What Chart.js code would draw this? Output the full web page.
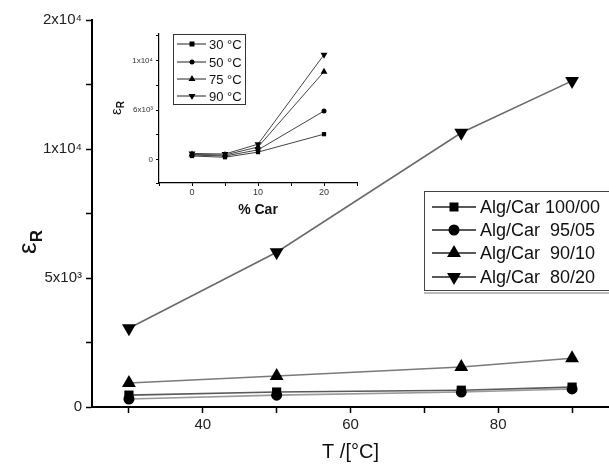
<!DOCTYPE html>
<html>
<head>
<meta charset="utf-8">
<script src="https://cdn.jsdelivr.net/npm/chart.js@4/dist/chart.umd.min.js"></script>
<style>
  html, body { margin: 0; padding: 0; background: #fff; }
  #wrap { position: relative; width: 609px; height: 471px; }
  #wrap canvas { position: absolute; left: 0; top: 0; }
</style>
</head>
<body>
<div id="wrap">
  <canvas id="mainChart" width="609" height="471"></canvas>
  <canvas id="insetChart" width="609" height="471"></canvas>
</div>
<script>
// main plot: eps_R vs temperature
const temps = [30, 50, 75, 90];
const seriesLabels = ['Alg/Car 100/00', 'Alg/Car  95/05', 'Alg/Car  90/10', 'Alg/Car  80/20'];
const alg100 = [460, 580, 650, 770];
const alg95 = [310, 460, 580, 700];
const alg90 = [930, 1200, 1550, 1890];
const alg80 = [3050, 6000, 10630, 12640];
const yTickValues = [0, 5000, 10000, 15000];
const yTickLabels = ['0', '5x10\u00B3', '1x10\u2074', '2x10\u2074'];
const xTickLabels = [40, 60, 80];

// inset: eps_R vs % Car
const carPct = [0, 5, 10, 20];
const insetLabels = ['30 \u00B0C', '50 \u00B0C', '75 \u00B0C', '90 \u00B0C'];
const t30 = [460, 310, 930, 3100];
const t50 = [580, 460, 1200, 5900];
const t75 = [650, 580, 1550, 10650];
const t90 = [770, 700, 1890, 12700];
const insetYTickValues = [0, 6000, 12000];
const insetYTickLabels = ['0', '6x10\u00B3', '1x10\u2074'];
const insetXTickLabels = [0, 10, 20];

const FONT = "'Liberation Sans', Arial, sans-serif";

function toPoints(xs, ys) {
    return xs.map((x, i) => ({ x: x, y: ys[i] }));
}

// small marker painter for the hand drawn legends
function drawMarker(ctx, style, x, y, r) {
    ctx.beginPath();
    if (style === 'rect') {
        ctx.rect(x - r, y - r, 2 * r, 2 * r);
    } else if (style === 'circle') {
        ctx.arc(x, y, r, 0, Math.PI * 2);
    } else if (style === 'up') {
        ctx.moveTo(x, y - r);
        ctx.lineTo(x + r * 0.87, y + r * 0.5);
        ctx.lineTo(x - r * 0.87, y + r * 0.5);
        ctx.closePath();
    } else {
        ctx.moveTo(x, y + r);
        ctx.lineTo(x + r * 0.87, y - r * 0.5);
        ctx.lineTo(x - r * 0.87, y - r * 0.5);
        ctx.closePath();
    }
    ctx.fillStyle = '#000';
    ctx.fill();
}

function drawSubLabel(ctx, x, y, big, small, sizeBig, sizeSmall) {
    // rotated eps with subscript R
    ctx.save();
    ctx.translate(x, y);
    ctx.rotate(-Math.PI / 2);
    ctx.fillStyle = '#111';
    ctx.textBaseline = 'alphabetic';
    ctx.font = sizeBig + 'px ' + FONT;
    const w1 = ctx.measureText(big).width;
    ctx.font = 'bold ' + sizeSmall + 'px ' + FONT;
    const w2 = ctx.measureText(small).width;
    const start = -(w1 + w2) / 2;
    ctx.font = sizeBig + 'px ' + FONT;
    ctx.fillText(big, start, sizeBig * 0.3);
    ctx.font = 'bold ' + sizeSmall + 'px ' + FONT;
    ctx.fillText(small, start + w1, sizeBig * 0.3 + sizeSmall * 0.35);
    ctx.restore();
}

const mainStyles = [
    { style: 'rect', radius: 6.5, rotation: 0, line: '#5a5a5a', legend: 'rect', lr: 4.5 },
    { style: 'circle', radius: 5.5, rotation: 0, line: '#9a9a9a', legend: 'circle', lr: 5.5 },
    { style: 'triangle', radius: 8, rotation: 0, line: '#7a7a7a', legend: 'up', lr: 8 },
    { style: 'triangle', radius: 8, rotation: 180, line: '#6a6a6a', legend: 'down', lr: 8 }
];
const mainSeries = [alg100, alg95, alg90, alg80];

const mainLegend = {
    id: 'mainLegend',
    afterDraw(chart) {
        const ctx = chart.ctx;
        ctx.save();
        // y title
        drawSubLabel(ctx, 28, 242, '\u03B5', 'R', 26, 17);
        // legend box
        ctx.fillStyle = '#bbb';
        ctx.fillRect(424, 292, 185, 2);
        ctx.fillStyle = '#fff';
        ctx.fillRect(426, 192, 183, 99);
        ctx.strokeStyle = '#444';
        ctx.lineWidth = 1;
        ctx.strokeRect(424.5, 191.5, 190, 99);
        const rows = [207, 230, 253, 277];
        seriesLabels.forEach((lab, i) => {
            const y = rows[i];
            ctx.strokeStyle = '#222';
            ctx.lineWidth = 1.5;
            ctx.beginPath();
            ctx.moveTo(432, y);
            ctx.lineTo(476, y);
            ctx.stroke();
            drawMarker(ctx, mainStyles[i].legend, 454, y, mainStyles[i].lr);
            ctx.fillStyle = '#111';
            ctx.font = '18px ' + FONT;
            ctx.textBaseline = 'middle';
            ctx.textAlign = 'left';
            ctx.fillText(lab, 480, y + 1);
        });
        ctx.restore();
    }
};

new Chart(document.getElementById('mainChart'), {
    type: 'line',
    data: {
        datasets: mainSeries.map((vals, i) => ({
            label: seriesLabels[i],
            data: toPoints(temps, vals),
            borderColor: mainStyles[i].line,
            borderWidth: 1.6,
            pointStyle: mainStyles[i].style,
            pointRadius: mainStyles[i].radius,
            pointRotation: mainStyles[i].rotation,
            pointBackgroundColor: '#000',
            pointBorderColor: '#000',
            pointBorderWidth: 0,
            tension: 0,
            fill: false
        }))
    },
    options: {
        responsive: false,
        animation: false,
        events: [],
        layout: { autoPadding: false, padding: { top: 20, right: 0, left: 0, bottom: 0 } },
        plugins: { legend: { display: false }, tooltip: { enabled: false } },
        scales: {
            x: {
                type: 'linear',
                min: 25,
                max: 95,
                afterFit: s => { s.height = 64; s.paddingLeft = 0; s.paddingRight = 0; },
                afterBuildTicks: s => { s.ticks = [30, 40, 50, 60, 70, 80, 90].map(v => ({ value: v })); },
                ticks: {
                    color: '#222',
                    font: { family: FONT, size: 15 },
                    padding: 3,
                    maxRotation: 0,
                    autoSkip: false,
                    callback: v => xTickLabels.includes(v) ? String(v) : ''
                },
                grid: { drawOnChartArea: false, tickLength: 6, tickColor: '#000', tickWidth: 1.5 },
                border: { color: '#000', width: 2 },
                title: {
                    display: true,
                    text: 'T /[\u00B0C]',
                    color: '#111',
                    font: { family: FONT, size: 20 },
                    padding: { top: 0, bottom: 7 }
                }
            },
            y: {
                type: 'linear',
                min: 0,
                max: 15000,
                afterFit: s => { s.width = 92; },
                afterBuildTicks: s => { s.ticks = [0, 2500, 5000, 7500, 10000, 12500, 15000].map(v => ({ value: v })); },
                ticks: {
                    color: '#222',
                    font: { family: FONT, size: 15 },
                    padding: 4,
                    autoSkip: false,
                    callback: v => {
                        const k = yTickValues.indexOf(v);
                        return k >= 0 ? yTickLabels[k] : '';
                    }
                },
                grid: { drawOnChartArea: false, tickLength: 6, tickColor: '#000', tickWidth: 1.5 },
                border: { color: '#000', width: 2 }
            }
        }
    },
    plugins: [mainLegend]
});

// ---------------- inset ----------------
const insetStyles = [
    { style: 'rect', radius: 3, rotation: 0, legend: 'rect', lr: 2.5 },
    { style: 'circle', radius: 2.5, rotation: 0, legend: 'circle', lr: 2.5 },
    { style: 'triangle', radius: 4, rotation: 0, legend: 'up', lr: 4 },
    { style: 'triangle', radius: 4, rotation: 180, legend: 'down', lr: 4 }
];
const insetSeries = [t30, t50, t75, t90];

const insetLegend = {
    id: 'insetLegend',
    afterDraw(chart) {
        const ctx = chart.ctx;
        ctx.save();
        drawSubLabel(ctx, 116, 108, '\u03B5', 'R', 15, 10);
        ctx.strokeStyle = '#333';
        ctx.lineWidth = 1;
        ctx.strokeRect(173.5, 34.5, 72, 70);
        const rows = [44, 62, 79, 96];
        insetLabels.forEach((lab, i) => {
            const y = rows[i];
            ctx.strokeStyle = '#222';
            ctx.lineWidth = 1;
            ctx.beginPath();
            ctx.moveTo(177, y);
            ctx.lineTo(206, y);
            ctx.stroke();
            drawMarker(ctx, insetStyles[i].legend, 192, y, insetStyles[i].lr);
            ctx.fillStyle = '#111';
            ctx.font = '13px ' + FONT;
            ctx.textBaseline = 'middle';
            ctx.textAlign = 'left';
            ctx.fillText(lab, 209, y + 1);
        });
        ctx.restore();
    }
};

new Chart(document.getElementById('insetChart'), {
    type: 'line',
    data: {
        datasets: insetSeries.map((vals, i) => ({
            label: insetLabels[i],
            data: toPoints(carPct, vals),
            borderColor: '#444',
            borderWidth: 1,
            pointStyle: insetStyles[i].style,
            pointRadius: insetStyles[i].radius,
            pointRotation: insetStyles[i].rotation,
            pointBackgroundColor: '#000',
            pointBorderColor: '#000',
            pointBorderWidth: 0,
            tension: 0,
            fill: false
        }))
    },
    options: {
        responsive: false,
        animation: false,
        events: [],
        layout: { autoPadding: false, padding: { top: 34, right: 252, left: 119, bottom: 471 - 183 - 36 } },
        plugins: { legend: { display: false }, tooltip: { enabled: false } },
        scales: {
            x: {
                type: 'linear',
                min: -5,
                max: 25,
                afterFit: s => { s.height = 36; s.paddingLeft = 0; s.paddingRight = 0; },
                afterBuildTicks: s => { s.ticks = [-5, 0, 5, 10, 15, 20, 25].map(v => ({ value: v })); },
                ticks: {
                    color: '#333',
                    font: { family: FONT, size: 9 },
                    padding: 1,
                    maxRotation: 0,
                    autoSkip: false,
                    callback: v => insetXTickLabels.includes(v) ? String(v) : ''
                },
                grid: { drawOnChartArea: false, tickLength: 3, tickColor: '#000', tickWidth: 1 },
                border: { color: '#000', width: 1.2 },
                title: {
                    display: true,
                    text: '% Car',
                    color: '#111',
                    font: { family: FONT, size: 14, weight: 'bold' },
                    padding: { top: 0, bottom: 0 }
                }
            },
            y: {
                type: 'linear',
                min: -2800,
                max: 15200,
                afterFit: s => { s.width = 40; },
                afterBuildTicks: s => { s.ticks = [-2800, 0, 3000, 6000, 9000, 12000, 15000].map(v => ({ value: v })); },
                ticks: {
                    color: '#333',
                    font: { family: FONT, size: 8 },
                    padding: 3,
                    autoSkip: false,
                    callback: v => {
                        const k = insetYTickValues.indexOf(v);
                        return k >= 0 ? insetYTickLabels[k] : '';
                    }
                },
                grid: { drawOnChartArea: false, tickLength: 3, tickColor: '#000', tickWidth: 1 },
                border: { color: '#000', width: 1.2 }
            }
        }
    },
    plugins: [insetLegend]
});
</script>
</body>
</html>
